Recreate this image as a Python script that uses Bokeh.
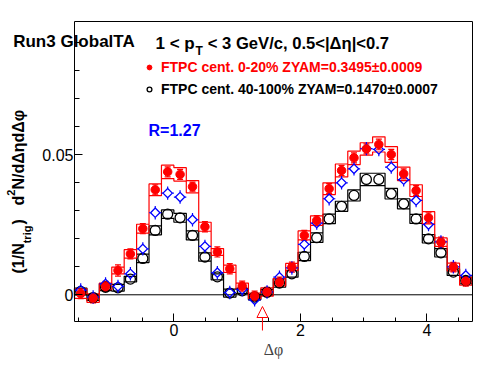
import math
from bokeh.plotting import figure
from bokeh.models import (Range1d, FixedTicker, Label, Legend, LegendItem, LinearAxis,
                          ColumnDataSource, Whisker, TeeHead, Arrow, NormalHead)
from bokeh.embed import file_html
from bokeh.resources import INLINE

# ---------------- data ----------------
dphi = [-1.4726, -1.2763, -1.0799, -0.8836, -0.6872, -0.4909, -0.2945, -0.0982,
        0.0982, 0.2945, 0.4909, 0.6872, 0.8836, 1.0799, 1.2763, 1.4726,
        1.6690, 1.8653, 2.0617, 2.2580, 2.4544, 2.6507, 2.8471, 3.0434,
        3.2398, 3.4361, 3.6325, 3.8288, 4.0252, 4.2215, 4.4179, 4.6142]
bin_width = 0.19635

central_y = [0.0004, -0.0012, 0.0030, 0.0087, 0.0146, 0.0236, 0.0375, 0.0439,
             0.0430, 0.0386, 0.0243, 0.0153, 0.0093, 0.0031, -0.0004, 0.0010,
             0.0045, 0.0099, 0.0212, 0.0265, 0.0379, 0.0444, 0.0489, 0.0521,
             0.0537, 0.0501, 0.0432, 0.0372, 0.0275, 0.0188, 0.0099, 0.0048]
central_stat = [0.0018, 0.0017, 0.0018, 0.0020, 0.0018, 0.0018, 0.0018, 0.0018,
                0.0018, 0.0016, 0.0018, 0.0018, 0.0018, 0.0018, 0.0017, 0.0017,
                0.0018, 0.0018, 0.0018, 0.0018, 0.0018, 0.0018, 0.0018, 0.0018,
                0.0019, 0.0018, 0.0018, 0.0018, 0.0018, 0.0018, 0.0017, 0.0017]
central_sys = [0.0017, 0.0015, 0.0012, 0.0012, 0.0015, 0.0016, 0.0021, 0.0024,
               0.0024, 0.0022, 0.0016, 0.0012, 0.0013, 0.0011, 0.0010, 0.0015,
               0.0013, 0.0013, 0.0016, 0.0017, 0.0021, 0.0023, 0.0024, 0.0022,
               0.0027, 0.0028, 0.0024, 0.0021, 0.0022, 0.0015, 0.0014, 0.0014]

periph_y = [0.0012, -0.0010, 0.0027, 0.0025, 0.0056, 0.0130, 0.0230, 0.0288,
            0.0275, 0.0212, 0.0135, 0.0064, 0.0006, 0.0014, -0.0008, 0.0009,
            0.0042, 0.0075, 0.0137, 0.0204, 0.0271, 0.0316, 0.0355, 0.0412,
            0.0412, 0.0361, 0.0325, 0.0271, 0.0200, 0.0150, 0.0081, 0.0051]
periph_sys = [0.0012, 0.0010, 0.0012, 0.0012, 0.0010, 0.0015, 0.0016, 0.0015,
              0.0016, 0.0016, 0.0015, 0.0011, 0.0014, 0.0009, 0.0010, 0.0010,
              0.0015, 0.0012, 0.0015, 0.0017, 0.0017, 0.0018, 0.0020, 0.0022,
              0.0022, 0.0019, 0.0018, 0.0016, 0.0015, 0.0015, 0.0012, 0.0012]

scaled_y = [0.0017, -0.0008, 0.0039, 0.0030, 0.0075, 0.0164, 0.0293, 0.0363,
            0.0349, 0.0268, 0.0173, 0.0079, 0.0008, 0.0019, -0.0018, 0.0010,
            0.0063, 0.0096, 0.0180, 0.0256, 0.0343, 0.0400, 0.0450, 0.0522,
            0.0519, 0.0456, 0.0411, 0.0337, 0.0251, 0.0189, 0.0100, 0.0069]
scaled_stat = [0.0024] * 32

legend_labels = ["FTPC cent. 0-20% ZYAM=0.3495\u00b10.0009",
                 "FTPC cent. 40-100% ZYAM=0.1470\u00b10.0007"]
ratio_text = "R=1.27"
zyam_x = 1.40

x_tick_values = [0, 2, 4]
x_minor_ticks = [-1.5, -1, -0.5, 0.5, 1, 1.5, 2.5, 3, 3.5, 4.5]
y_tick_values = [0, 0.05]
y_tick_labels = ["0", "0.05"]
y_minor_ticks = [0.01, 0.02, 0.03, 0.04, 0.06, 0.07, 0.08, 0.09]

# axis (frame) ranges and where the frame sits on the canvas (pixels)
x_lo, x_hi = -math.pi / 2, 3 * math.pi / 2
y_lo, y_hi = -0.00954, 0.0976
W, H = 496, 374
F_LEFT, F_RIGHT, F_TOP, F_BOTTOM = 74, 471.5, 21, 321

FONT = "Liberation Sans"

ux = (x_hi - x_lo) / (F_RIGHT - F_LEFT)   # data units per pixel
uy = (y_hi - y_lo) / (F_BOTTOM - F_TOP)

p = figure(width=W, height=H, output_backend="svg", toolbar_location=None, title=None,
           x_range=Range1d(x_lo - F_LEFT * ux, x_hi + (W - F_RIGHT) * ux),
           y_range=Range1d(y_lo - (H - F_BOTTOM) * uy, y_hi + F_TOP * uy),
           min_border=0, min_border_left=0, min_border_right=0,
           min_border_top=0, min_border_bottom=0)
p.xgrid.visible = False
p.ygrid.visible = False
p.outline_line_color = None
p.background_fill_color = "white"
p.border_fill_color = "white"

xa = p.xaxis[0]
xa.fixed_location = y_lo
xa.bounds = (x_lo, x_hi)
xa.ticker = FixedTicker(ticks=x_tick_values, minor_ticks=x_minor_ticks)
xa.major_tick_in = 8
xa.major_tick_out = 0
xa.minor_tick_in = 4
xa.minor_tick_out = 0
xa.major_label_text_font = FONT
xa.major_label_text_font_size = "16px"
xa.major_label_standoff = 2
xa.axis_label = "\u0394\u03c6"
xa.axis_label_text_font = "Liberation Serif"
xa.axis_label_text_font_style = "normal"
xa.axis_label_text_font_size = "16px"
xa.axis_label_standoff = 2

ya = p.yaxis[0]
ya.fixed_location = x_lo
ya.bounds = (y_lo, y_hi)
ya.ticker = FixedTicker(ticks=y_tick_values, minor_ticks=y_minor_ticks)
ya.major_label_overrides = dict(zip(y_tick_values, y_tick_labels))
ya.major_tick_in = 8
ya.major_tick_out = 0
ya.minor_tick_in = 5
ya.minor_tick_out = 0
ya.major_label_text_font = FONT
ya.major_label_text_font_size = "16px"
ya.major_label_standoff = 1

# top and right sides of the frame (no ticks)
top_ax = LinearAxis(fixed_location=y_hi, bounds=(x_lo, x_hi), ticker=FixedTicker(ticks=[]))
right_ax = LinearAxis(fixed_location=x_hi, bounds=(y_lo, y_hi), ticker=FixedTicker(ticks=[]))
p.add_layout(top_ax, "above")
p.add_layout(right_ax, "right")

for ax in (xa, ya, top_ax, right_ax):
    ax.axis_line_color = "black"
    ax.axis_line_width = 1
    ax.major_tick_line_color = "black"
    ax.minor_tick_line_color = "black"
    ax.major_label_text_color = "black"
for ax in (top_ax, right_ax):
    ax.major_tick_in = 0
    ax.major_tick_out = 0
    ax.minor_tick_in = 0
    ax.minor_tick_out = 0

# zero line across the frame
p.segment(x0=[x_lo], y0=[0], x1=[x_hi], y1=[0], line_color="black", line_width=1)

half = bin_width / 2

# systematic bands: upper and lower step outlines (joined at the ends)
def sys_band(xc, yc, sy):
    xs, ys = [], []
    for x, y, s in zip(xc, yc, sy):
        xs += [x - half, x + half]
        ys += [y + s, y + s]
    for x, y, s in reversed(list(zip(xc, yc, sy))):
        xs += [x + half, x - half]
        ys += [y - s, y - s]
    return xs, ys

bx, by = sys_band(dphi, periph_y, periph_sys)
p.patch(bx, by, fill_alpha=0, line_color="black", line_width=1.2)
bx, by = sys_band(dphi, central_y, central_sys)
p.patch(bx, by, fill_alpha=0, line_color="red", line_width=1.2)

# peripheral points
r_periph = p.scatter(dphi, periph_y, marker="circle", size=10, fill_color=None,
                     line_color="black", line_width=1.3)

# scaled peripheral (blue) with error bars drawn outside the marker
gx = 4.6 * ux
gy = 4.6 * uy
sx0, sx1, sy0, sy1 = [], [], [], []
for x, y, e in zip(dphi, scaled_y, scaled_stat):
    sx0 += [x - half, x + gx]
    sx1 += [x - gx, x + half]
    sy0 += [y, y]
    sy1 += [y, y]
    if e > gy:
        sx0 += [x, x]
        sx1 += [x, x]
        sy0 += [y + gy, y - gy]
        sy1 += [y + e, y - e]
p.segment(x0=sx0, y0=sy0, x1=sx1, y1=sy1, line_color="blue", line_width=1.2)
p.scatter(dphi, scaled_y, marker="square", angle=math.pi / 4, size=6.6,
          fill_color=None, line_color="blue", line_width=1.3)

# central points with stat error bars
src_c = ColumnDataSource(dict(x=dphi, y=central_y,
                              lo=[y - e for y, e in zip(central_y, central_stat)],
                              up=[y + e for y, e in zip(central_y, central_stat)]))
p.add_layout(Whisker(source=src_c, base="x", lower="lo", upper="up",
                     line_color="red", line_width=1.2,
                     lower_head=TeeHead(size=6, line_color="red", line_width=1.2),
                     upper_head=TeeHead(size=6, line_color="red", line_width=1.2)))
r_central = p.scatter("x", "y", source=src_c, marker="circle", size=8.5,
                      fill_color="red", line_color="red")

# ZYAM arrow (head 15 px above a 14 px stem that starts 9 px below the frame)
p.add_layout(Arrow(end=NormalHead(size=11, fill_color="white", line_color="red", line_width=1),
                   x_start=zyam_x, y_start=y_lo - 9 * uy, x_end=zyam_x, y_end=y_lo + 15 * uy,
                   line_color="red", line_width=1))

# legends (two, because the label colours differ); location = bottom-left corner
ROW = 14
def make_legend(label, renderer, color, row_top):
    return Legend(items=[LegendItem(label=label, renderers=[renderer])],
                  location=(143, H - row_top - ROW), border_line_color=None,
                  background_fill_alpha=0, padding=0, margin=0, spacing=0,
                  glyph_width=12, glyph_height=ROW, label_height=ROW,
                  label_standoff=6, label_text_font=FONT,
                  label_text_font_size="14px", label_text_font_style="bold",
                  label_text_color=color)

p.add_layout(make_legend(legend_labels[0], r_central, "red", 61))
p.add_layout(make_legend(legend_labels[1], r_periph, "black", 83))

# texts (screen positions: x from left, y from top of the canvas)
def lab(text, x, y_top, size, color="black", angle=0, style="bold", font=FONT):
    p.add_layout(Label(text=text, x=x, y=H - y_top, x_units="screen", y_units="screen",
                       text_font=font, text_font_size=size, text_font_style=style,
                       text_color=color, angle=angle, text_align="left",
                       text_baseline="alphabetic"))

lab("Run3 GlobalTA", 12.7, 41, "17px")
lab("1 < p", 155, 42.5, "17px")
lab("T", 195, 50.5, "12px")
lab("< 3 GeV/c, 0.5<|\u0394\u03b7|<0.7", 207.3, 42.5, "16.6px")
lab(ratio_text, 148, 130, "16px", color="blue")

A = math.pi / 2
lab("(1/N", 17.5, 273, "16px", angle=A)
lab("trig", 26, 242.8, "11px", angle=A)
lab(")", 17.5, 224, "16px", angle=A)
lab("d", 17.5, 205, "16px", angle=A)
lab("2", 10, 195.2, "11px", angle=A)
lab("N/d\u0394\u03b7d\u0394\u03c6", 17.5, 189, "16px", angle=A)

open("out.html", "w").write(file_html(p, INLINE))
